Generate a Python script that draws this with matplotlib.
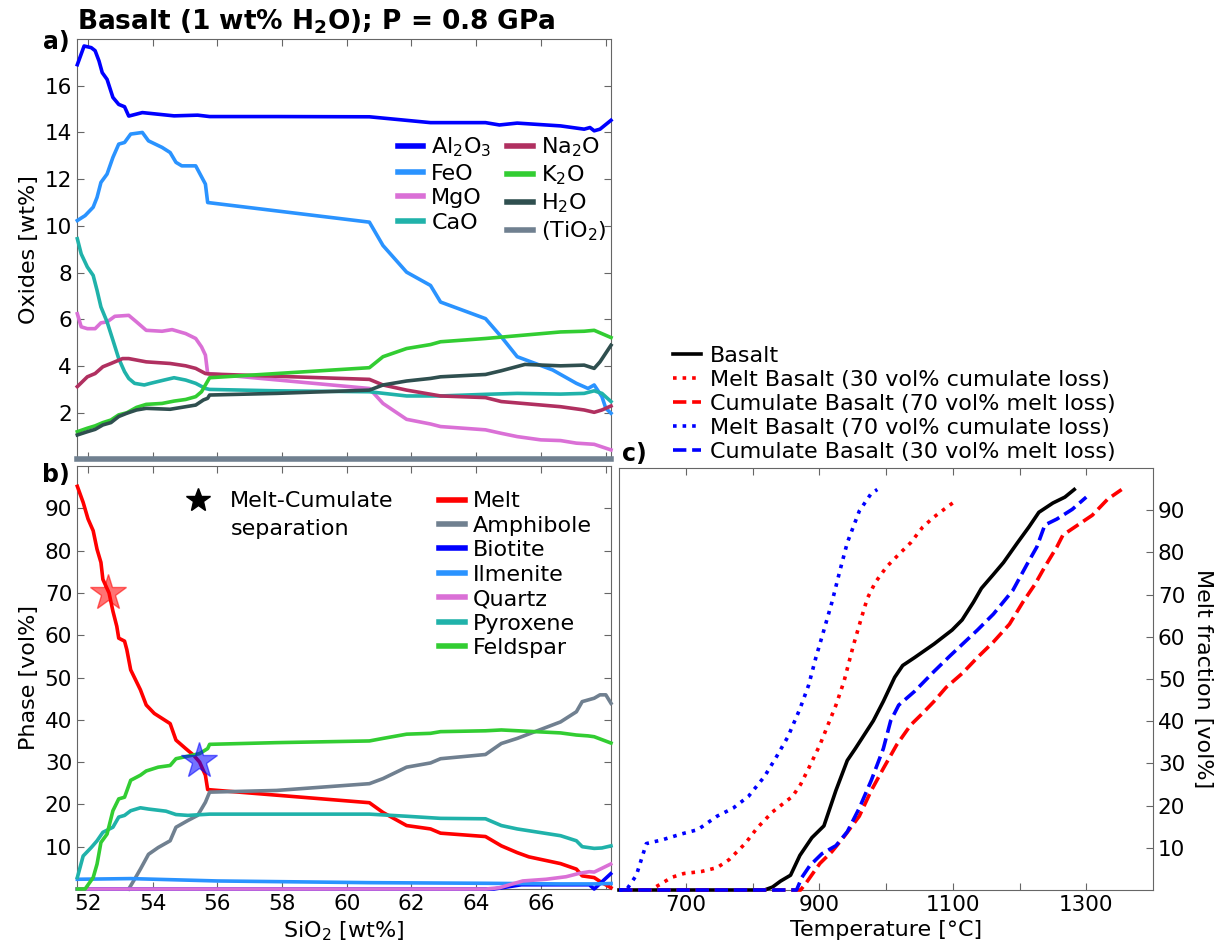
import matplotlib
matplotlib.use("Agg")
import matplotlib.pyplot as plt
from matplotlib.lines import Line2D

# ---------------- Panel a: oxides vs SiO2 ----------------
al2o3_x = [51.67, 51.88, 52.1, 52.22, 52.34, 52.44, 52.59, 52.77, 52.95, 53.13, 53.26, 53.68, 54.17, 54.66,
           55.39, 55.76, 57.83, 60.7, 62.59, 64.29, 64.72, 65.27, 66.61, 67.34, 67.52, 67.65, 67.83, 68.17]
al2o3_y = [16.9, 17.7, 17.63, 17.5, 17.06, 16.56, 16.27, 15.5, 15.2, 15.1, 14.7, 14.85, 14.78, 14.71,
           14.74, 14.68, 14.68, 14.67, 14.42, 14.42, 14.32, 14.4, 14.28, 14.14, 14.21, 14.07, 14.14, 14.52]

feo_x = [51.67, 51.91, 52.16, 52.28, 52.4, 52.59, 52.77, 52.95, 53.13, 53.32, 53.68, 53.87, 54.29, 54.54,
         54.72, 54.9, 55.33, 55.63, 55.7, 60.7, 61.12, 61.85, 62.59, 62.9, 64.29, 64.78, 65.27, 66.37,
         67.1, 67.46, 67.65, 67.89, 68.01, 68.17]
feo_y = [10.23, 10.44, 10.8, 11.22, 11.86, 12.22, 12.93, 13.5, 13.57, 13.93, 14.0, 13.64, 13.36, 13.14,
         12.72, 12.57, 12.57, 11.79, 11.0, 10.16, 9.16, 8.02, 7.45, 6.74, 6.03, 5.25, 4.4, 3.83,
         3.26, 3.04, 3.19, 2.69, 2.19, 1.98]

mgo_x = [51.67, 51.79, 51.98, 52.22, 52.4, 52.59, 52.83, 53.26, 53.5, 53.8, 54.29, 54.6, 55.02, 55.33,
         55.51, 55.63, 55.7, 60.7, 61.12, 61.85, 62.59, 62.9, 64.29, 64.78, 65.27, 66.0, 66.61, 67.1,
         67.65, 68.17]
mgo_y = [6.24, 5.68, 5.6, 5.6, 5.85, 5.89, 6.13, 6.17, 5.89, 5.53, 5.49, 5.56, 5.39, 5.18,
         4.82, 4.47, 3.68, 3.04, 2.4, 1.72, 1.52, 1.41, 1.27, 1.12, 0.98, 0.84, 0.81, 0.7,
         0.65, 0.41]

cao_x = [51.67, 51.79, 51.98, 52.16, 52.28, 52.4, 52.59, 52.77, 52.95, 53.13, 53.26, 53.44, 53.74, 53.93,
         54.35, 54.66, 55.02, 55.33, 55.63, 55.76, 57.83, 60.7, 61.85, 62.9, 64.29, 65.27, 66.61, 67.34,
         67.65, 67.89, 68.17]
cao_y = [9.45, 8.8, 8.24, 7.88, 7.24, 6.53, 5.89, 5.11, 4.32, 3.76, 3.47, 3.26, 3.19, 3.26,
         3.4, 3.5, 3.4, 3.26, 3.04, 3.0, 2.94, 2.9, 2.72, 2.72, 2.79, 2.83, 2.8, 2.83,
         2.94, 2.83, 2.48]

na2o_x = [51.67, 51.98, 52.22, 52.46, 52.71, 53.07, 53.26, 53.8, 54.54, 55.02, 55.33, 55.63, 55.76, 60.7,
          61.12, 61.85, 62.9, 64.29, 64.78, 66.61, 67.34, 67.65, 67.89, 68.17]
na2o_y = [3.12, 3.54, 3.68, 3.97, 4.11, 4.32, 4.32, 4.18, 4.11, 4.01, 3.9, 3.68, 3.66, 3.43,
          3.19, 2.97, 2.72, 2.65, 2.48, 2.26, 2.12, 2.02, 2.12, 2.29]

k2o_x = [51.67, 51.98, 52.22, 52.46, 52.71, 52.95, 53.2, 53.5, 53.8, 54.29, 54.66, 55.02, 55.33, 55.51,
         55.63, 55.76, 57.83, 60.7, 61.12, 61.85, 62.59, 62.9, 64.29, 66.61, 67.34, 67.65, 68.17]
k2o_y = [1.19, 1.34, 1.44, 1.58, 1.69, 1.91, 2.0, 2.23, 2.36, 2.4, 2.5, 2.57, 2.69, 2.9,
         3.19, 3.5, 3.68, 3.93, 4.4, 4.75, 4.92, 5.04, 5.18, 5.46, 5.49, 5.53, 5.22]

h2o_x = [51.67, 51.98, 52.22, 52.46, 52.71, 52.95, 53.2, 53.5, 53.8, 54.54, 55.02, 55.33, 55.57, 55.7,
         55.76, 57.83, 60.7, 61.12, 61.85, 62.59, 62.9, 64.29, 64.78, 65.51, 66.61, 67.34, 67.65, 67.83,
         68.17]
h2o_y = [1.05, 1.19, 1.29, 1.48, 1.58, 1.84, 1.98, 2.12, 2.19, 2.15, 2.26, 2.33, 2.55, 2.62,
         2.76, 2.83, 2.97, 3.19, 3.36, 3.47, 3.54, 3.64, 3.8, 4.07, 4.01, 4.04, 3.9, 4.18,
         4.89]

tio2_x = [51.67, 55.76, 60.7, 64.29, 68.17]
tio2_y = [0.0, 0.0, 0.0, 0.0, 0.0]

oxide_labels = [r"Al$_2$O$_3$", "FeO", "MgO", "CaO", r"Na$_2$O", r"K$_2$O", r"H$_2$O", r"(TiO$_2$)"]

# ---------------- Panel b: phases vs SiO2 ----------------
melt_x = [51.67, 51.85, 52.0, 52.16, 52.28, 52.4, 52.46, 52.65, 52.77, 52.89, 52.95, 53.13, 53.2, 53.32,
          53.62, 53.8, 54.05, 54.54, 54.72, 55.02, 55.27, 55.45, 55.63, 55.7, 60.7, 61.12, 61.85, 62.59,
          62.9, 64.29, 64.78, 65.27, 65.63, 66.61, 67.1, 67.28, 67.65, 67.89, 68.17]
melt_y = [95.2, 91.4, 87.5, 84.7, 80.3, 77.2, 73.2, 70.0, 65.7, 62.1, 59.3, 58.6, 56.6, 51.8,
          47.1, 43.5, 41.5, 39.1, 35.2, 33.2, 31.6, 30.0, 26.9, 23.5, 20.4, 18.1, 15.0, 14.2,
          13.2, 12.4, 10.2, 8.6, 7.6, 6.0, 4.7, 3.1, 2.7, 1.5, 0.3]

amph_x = [53.26, 53.44, 53.62, 53.87, 54.17, 54.54, 54.72, 55.09, 55.39, 55.63, 55.76, 57.83, 60.7, 61.12,
          61.85, 62.59, 62.9, 64.29, 64.78, 65.27, 66.61, 67.1, 67.28, 67.65, 67.83, 68.01, 68.17]
amph_y = [0.0, 2.3, 4.7, 8.2, 9.8, 11.4, 14.6, 16.2, 17.4, 20.5, 22.9, 23.3, 24.9, 26.1,
          28.8, 29.8, 30.8, 31.8, 34.4, 35.6, 39.5, 41.9, 44.3, 45.1, 45.9, 45.9, 43.9]

biot_x = [51.67, 64.29, 64.55, 65.4, 66.6, 67.5, 67.65, 68.16]
biot_y = [0.0, 0.0, 0.0, 1.0, 1.0, 1.0, 0.0, 3.6]

ilm_x = [51.67, 53.32, 56.0, 60.7, 64.29, 66.61, 67.65, 68.17]
ilm_y = [2.3, 2.46, 1.9, 1.5, 1.35, 1.2, 1.2, 1.3]

qtz_x = [51.67, 64.31, 64.72, 65.44, 66.16, 66.78, 67.19, 67.5, 67.65, 68.16]
qtz_y = [0.0, 0.0, 0.3, 1.9, 2.3, 2.9, 3.7, 4.1, 4.0, 5.9]

pyx_x = [51.67, 51.85, 52.1, 52.28, 52.46, 52.77, 52.95, 53.13, 53.32, 53.62, 53.87, 54.41, 54.72, 55.09,
         55.76, 57.83, 60.7, 61.85, 62.9, 64.29, 64.78, 65.27, 66.61, 67.1, 67.28, 67.65, 67.89, 68.17]
pyx_y = [2.7, 7.8, 9.8, 11.4, 13.4, 14.6, 17.0, 17.4, 18.5, 19.2, 18.9, 18.4, 17.6, 17.4,
         17.7, 17.7, 17.7, 17.2, 16.7, 16.6, 15.0, 14.2, 12.6, 11.4, 10.0, 9.6, 9.7, 10.2]

fsp_x = [51.67, 51.91, 52.16, 52.28, 52.4, 52.59, 52.77, 52.95, 53.13, 53.32, 53.62, 53.8, 54.17, 54.54,
         54.72, 55.09, 55.45, 55.7, 55.76, 57.83, 60.7, 61.12, 61.85, 62.59, 62.9, 64.29, 64.78, 66.61,
         67.1, 67.46, 67.65, 68.17]
fsp_y = [0.0, 0.0, 2.7, 5.9, 11.0, 13.0, 18.5, 21.3, 21.7, 25.7, 26.9, 27.9, 28.8, 29.2,
         30.8, 31.4, 32.0, 33.2, 34.2, 34.6, 35.0, 35.6, 36.6, 36.8, 37.2, 37.4, 37.6, 36.9,
         36.4, 36.2, 36.0, 34.5]

phase_labels = ["Melt", "Amphibole", "Biotite", "Ilmenite", "Quartz", "Pyroxene", "Feldspar"]

# melt-cumulate separation points
sep_x = [52.62, 55.43]
sep_y = [70.0, 30.3]

# ---------------- Panel c: melt fraction vs temperature ----------------
bas_T = [600, 818, 830, 842, 857, 871, 889, 907, 925, 942, 954, 981, 996, 1013, 1025, 1043, 1072, 1099,
         1114, 1131, 1143, 1161, 1176, 1197, 1214, 1229, 1250, 1268, 1282]
bas_f = [0, 0, 0.7, 2.1, 3.5, 8.2, 12.4, 15.2, 23.6, 30.7, 33.5, 40.1, 44.7, 50.4, 53.2, 55.1, 58.3, 61.6,
         64.0, 68.2, 71.5, 74.8, 77.6, 82.3, 86.0, 89.5, 91.7, 93.1, 94.9]

m30_T = [600, 647, 659, 679, 697, 724, 747, 765, 789, 807, 830, 860, 872, 884, 901, 913, 925, 937, 951,
         963, 972, 984, 1001, 1019, 1037, 1055, 1072, 1087, 1105]
m30_f = [0, 0, 1.1, 3.0, 3.9, 4.4, 5.3, 7.2, 11.0, 14.7, 18.5, 22.2, 25.0, 28.8, 34.4, 39.1, 43.8, 49.4, 57.9,
         64.4, 69.1, 72.9, 76.6, 79.5, 82.3, 86.0, 88.4, 90.2, 92.3]

c70_T = [600, 872, 880, 901, 919, 936, 960, 978, 996, 1016, 1037, 1055, 1072, 1090, 1114, 1137, 1161, 1185,
         1205, 1223, 1238, 1256, 1265, 1279, 1309, 1332, 1353]
c70_f = [0, 0, 1.6, 6.3, 9.1, 12.4, 17.5, 23.6, 28.8, 34.4, 39.1, 41.9, 44.7, 48.0, 51.3, 55.1, 58.8, 63.0,
         68.2, 72.4, 76.6, 81.3, 84.1, 85.6, 88.8, 92.6, 94.9]

m70_T = [600, 611, 626, 641, 665, 694, 718, 747, 771, 794, 818, 836, 853, 871, 884, 895, 907, 919, 931,
         942, 960, 978, 987]
m70_f = [0, 0, 3.5, 11.0, 11.9, 13.3, 14.3, 17.5, 19.4, 22.2, 26.9, 31.6, 36.3, 42.9, 48.5, 55.1, 61.6, 68.2,
         75.7, 82.3, 89.8, 94.0, 94.9]

c30_T = [600, 866, 874, 886, 904, 925, 942, 960, 978, 996, 1007, 1019, 1043, 1072, 1096, 1137, 1161, 1190,
         1211, 1226, 1238, 1256, 1279, 1300]
c30_f = [0, 0, 3.0, 5.8, 8.6, 10.5, 13.8, 19.4, 26.0, 33.5, 40.1, 43.8, 47.1, 51.8, 55.5, 61.6, 65.4, 71.0,
         77.1, 81.3, 86.5, 87.9, 90.2, 93.1]

temp_labels = ["Basalt", "Melt Basalt (30 vol% cumulate loss)", "Cumulate Basalt (70 vol% melt loss)",
               "Melt Basalt (70 vol% cumulate loss)", "Cumulate Basalt (30 vol% melt loss)"]

sio2_ticks = [52, 54, 56, 58, 60, 62, 64, 66, 68]
sio2_ticklabels = ["52", "54", "56", "58", "60", "62", "64", "66", ""]
oxide_ticks = [2, 4, 6, 8, 10, 12, 14, 16]
phase_ticks = [10, 20, 30, 40, 50, 60, 70, 80, 90]
temp_ticks = [700, 800, 900, 1000, 1100, 1200, 1300]
temp_ticklabels = ["700", "", "900", "", "1100", "", "1300"]

# ---------------- Drawing ----------------
FS = 16
TFS = 15.5
plt.rcParams['font.family'] = ['DejaVu Sans']
plt.rcParams['font.size'] = FS
plt.rcParams['axes.edgecolor'] = '#666666'
plt.rcParams['xtick.color'] = '#666666'
plt.rcParams['ytick.color'] = '#666666'
plt.rcParams['xtick.labelcolor'] = 'black'
plt.rcParams['ytick.labelcolor'] = 'black'

W, H = 1220, 947
fig = plt.figure(figsize=(W / 100, H / 100), dpi=100)


def box(l, t, r, b):
    return [l / W, 1 - b / H, (r - l) / W, (b - t) / H]


axa = fig.add_axes(box(77, 39, 611, 459.5))
axb = fig.add_axes(box(77, 466, 611, 889))
axc = fig.add_axes(box(619, 468, 1153, 890))

LW = 2.6
oxide_colors = ['blue', '#2a93ff', '#da70d6', '#20b2aa', '#b03060', '#32cd32', '#2f4f4f', '#708090']
oxide_data = [(al2o3_x, al2o3_y), (feo_x, feo_y), (mgo_x, mgo_y), (cao_x, cao_y),
              (na2o_x, na2o_y), (k2o_x, k2o_y), (h2o_x, h2o_y), (tio2_x, tio2_y)]
for (x, y), c, lab in zip(oxide_data, oxide_colors, oxide_labels):
    axa.plot(x, y, color=c, lw=LW if lab != r"(TiO$_2$)" else 4.0, label=lab, clip_on=False, zorder=3)

axa.set_xlim(51.66, 68.17)
axa.set_ylim(0, 18)
axa.set_xticks(sio2_ticks)
axa.set_xticklabels([])
axa.set_yticks(oxide_ticks)
axa.set_ylabel("Oxides [wt%]", fontsize=FS)
leg_a = axa.legend(loc='upper left', bbox_to_anchor=(0.601, 0.77), ncol=2, frameon=False,
                   handlelength=1.15, handletextpad=0.35, columnspacing=0.7, labelspacing=0.2,
                   borderpad=0, borderaxespad=0, fontsize=FS)
for l in leg_a.get_lines():
    l.set_linewidth(4)

phase_colors = ['red', '#708090', 'blue', '#2a93ff', '#da70d6', '#20b2aa', '#32cd32']
phase_data = [(melt_x, melt_y), (amph_x, amph_y), (biot_x, biot_y), (ilm_x, ilm_y),
              (qtz_x, qtz_y), (pyx_x, pyx_y), (fsp_x, fsp_y)]
handles_b = []
for (x, y), c, lab in zip(phase_data, phase_colors, phase_labels):
    h, = axb.plot(x, y, color=c, lw=LW, label=lab, clip_on=False, zorder=3)
    handles_b.append(h)
axb.plot(sep_x[:1], sep_y[:1], marker='*', ms=27, color='red', alpha=0.55, ls='none', zorder=4)
axb.plot(sep_x[1:], sep_y[1:], marker='*', ms=27, color='blue', alpha=0.55, ls='none', zorder=4)

axb.set_xlim(51.66, 68.17)
axb.set_ylim(0, 100)
axb.set_xticks(sio2_ticks)
axb.set_xticklabels(sio2_ticklabels)
axb.set_yticks(phase_ticks)
axb.set_ylabel("Phase [vol%]", fontsize=FS)
axb.set_xlabel(r"SiO$_2$ [wt%]", fontsize=FS, labelpad=4)
leg_b = axb.legend(handles=handles_b, loc='upper left', bbox_to_anchor=(0.678, 0.94), frameon=False,
                   handlelength=1.15, handletextpad=0.35, labelspacing=0.2,
                   borderpad=0, borderaxespad=0, fontsize=FS)
for l in leg_b.get_lines():
    l.set_linewidth(4)
axb.add_artist(leg_b)
star_h = Line2D([], [], marker='*', ms=18, color='black', ls='none')
blank_h = Line2D([], [], ls='none')
axb.legend(handles=[star_h, blank_h], labels=["Melt-Cumulate", "separation"], loc='upper left',
           bbox_to_anchor=(0.206, 0.94), frameon=False, handlelength=1.0, handletextpad=0.95,
           labelspacing=0.35, borderpad=0, borderaxespad=0, fontsize=FS)

temp_data = [(bas_T, bas_f, 'black', '-'), (m30_T, m30_f, 'red', ':'), (c70_T, c70_f, 'red', '--'),
             (m70_T, m70_f, 'blue', ':'), (c30_T, c30_f, 'blue', '--')]
handles_c = []
for (x, y, c, ls), lab in zip(temp_data, temp_labels):
    h, = axc.plot(x, y, color=c, ls=ls, lw=LW, label=lab, clip_on=False, zorder=3)
    handles_c.append(h)
axc.set_xlim(600, 1400)
axc.set_ylim(0, 100)
axc.set_xticks(temp_ticks)
axc.set_xticklabels(temp_ticklabels)
axc.set_yticks(phase_ticks)
axc.yaxis.set_label_position('right')
axc.yaxis.tick_right()
axc.set_ylabel("Melt fraction [vol%]", fontsize=FS, rotation=270, labelpad=20)
axc.set_xlabel("Temperature [°C]", fontsize=FS, labelpad=4)
axc.legend(handles=handles_c, loc='lower left', bbox_to_anchor=(0.101, 1.015), frameon=False,
           handlelength=1.25, handletextpad=0.4, labelspacing=0.18,
           borderpad=0, borderaxespad=0, fontsize=FS)

for ax in (axa, axb):
    ax.tick_params(direction='in', top=True, right=True, length=5, labelsize=TFS)
axc.tick_params(direction='in', top=True, right=True, left=False, labelleft=False,
                labelright=True, length=5, labelsize=TFS)

axa.text(-0.013, 0.992, "a)", transform=axa.transAxes, ha='right', va='center', fontsize=FS + 1, weight='bold')
axb.text(-0.013, 0.978, "b)", transform=axb.transAxes, ha='right', va='center', fontsize=FS + 1, weight='bold')
axc.text(0.005, 1.005, "c)", transform=axc.transAxes, ha='left', va='bottom', fontsize=FS + 1, weight='bold')

fig.text(77 / W, 1 - 30 / H, r"Basalt (1 wt% H$_\mathbf{2}$O); P = 0.8 GPa", ha='left', va='baseline',
         fontsize=19, weight='bold')

fig.savefig("out.png", dpi=100)
